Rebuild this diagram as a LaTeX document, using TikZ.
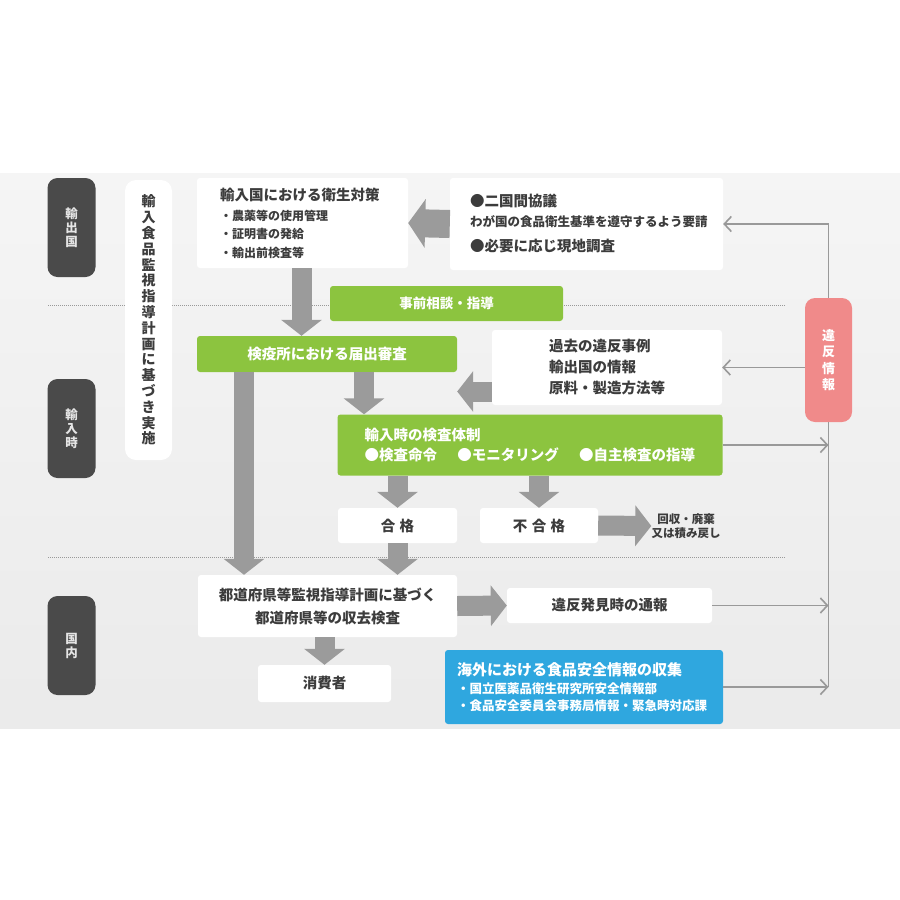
\documentclass[tikz,border=0pt]{standalone}
\usepackage{fontspec}
\setmainfont{Noto Sans CJK JP}
\usetikzlibrary{arrows.meta,calc}
\definecolor{grn}{HTML}{8CC43F}
\definecolor{blu}{HTML}{2FA7DF}
\definecolor{pnk}{HTML}{F08A8A}
\definecolor{drk}{HTML}{4A4A4A}
\definecolor{arw}{HTML}{9B9B9B}
\definecolor{txt}{HTML}{3C3C3C}
\definecolor{lin}{HTML}{999999}

\begin{document}
\begin{tikzpicture}[x=1pt,y=-1pt,
  every node/.style={font=\bfseries},
  wbox/.style={fill=white,rounded corners=3pt,text=txt,inner sep=0pt},
  gbox/.style={fill=grn,rounded corners=3pt,text=white,inner sep=0pt},
  tag/.style={fill=drk,rounded corners=10pt,text=white!90!black,inner sep=0pt,
    minimum width=48pt,minimum height=99pt,align=center,
    font=\bfseries\fontsize{12.5}{14}\selectfont},
  blk/.style={draw=arw,line width=20pt,-{Triangle[width=40pt,length=16pt]}},
  bigblk/.style={draw=arw,line width=28pt,-{Triangle[width=48pt,length=17pt]}},
  info/.style={draw=lin,line width=1.6pt,-{Straight Barb[length=7pt,width=15pt]}},
  sepline/.style={draw=lin,line width=1pt,dash pattern=on 1pt off 1pt}]
\useasboundingbox (0,0) rectangle (900,900);
\fill[white] (0,0) rectangle (900,900);
\shade[top color=black!4,bottom color=black!8] (0,173) rectangle (900,728);

% separators
\draw[sepline] (48,305) -- (785,305);
\draw[sepline] (48,557) -- (785,557);

% stage tags
\node[tag] (yushutsu) at (71.5,227.5) {輸\\出\\国};
\node[tag] (yunyu) at (71.5,428.5) {輸\\入\\時};
\node[tag] (kokunai) at (71.5,645.5) {国\\内};

\node[fill=white,rounded corners=11pt,text=txt,inner sep=0pt,minimum width=47pt,
  minimum height=280pt,align=center,font=\bfseries\fontsize{14}{15.8}\selectfont]
  (keikaku) at (148.5,320) {輸\\入\\食\\品\\監\\視\\指\\導\\計\\画\\に\\基\\づ\\き\\実\\施};

% export country
\node[wbox,minimum width=211pt,minimum height=90pt,text width=165pt,align=left,
  font=\bfseries\fontsize{12}{18.5}\selectfont] (taisaku) at (302.5,223)
  {{\fontsize{14.5}{18.5}\selectfont 輸入国における衛生対策}\\[1.5pt]
   ・農薬等の使用管理\\・証明書の発給\\・輸出前検査等};
\node[wbox,minimum width=273pt,minimum height=92pt,text width=233pt,align=left,
  font=\bfseries\fontsize{14.5}{20}\selectfont] (kyogi) at (586.5,224)
  {●二国間協議\\{\fontsize{12.5}{20}\selectfont わが国の食品衛生基準を遵守するよう要請}\\[5pt]
   ●必要に応じ現地調査};

% import
\node[gbox,minimum width=233pt,minimum height=35pt,font=\bfseries\fontsize{13.5}{16}\selectfont]
  (jizen) at (446.5,303.5) {事前相談・指導};
\node[gbox,minimum width=260pt,minimum height=36pt,font=\bfseries\fontsize{14.5}{16}\selectfont]
  (todokede) at (327,354) {検疫所における届出審査};
\node[wbox,minimum width=230pt,minimum height=75pt,align=left,
  font=\bfseries\fontsize{14.5}{21}\selectfont] (kako) at (607,367.5)
  {過去の違反事例\\輸出国の情報\\原料・製造方法等};
\node[gbox,minimum width=385pt,minimum height=61pt,text width=331pt,align=left,
  font=\bfseries\fontsize{14.5}{20}\selectfont] (kensa) at (530,445)
  {輸入時の検査体制\\●検査命令\hspace{1.4em}●モニタリング\hspace{1.4em}●自主検査の指導};
\node[wbox,minimum width=119pt,minimum height=35pt,font=\bfseries\fontsize{14.5}{16}\selectfont]
  (gokaku) at (397.5,525.5) {合\hspace{0.3em}格};
\node[wbox,minimum width=118pt,minimum height=35pt,font=\bfseries\fontsize{14.5}{16}\selectfont]
  (fugokaku) at (539,525.5) {不\hspace{0.3em}合\hspace{0.3em}格};
\node[text=txt,inner sep=0pt,align=center,font=\bfseries\fontsize{11.5}{13.5}\selectfont]
  (kaishu) at (686,526) {回収・廃棄\\又は積み戻し};

% domestic
\node[wbox,minimum width=259pt,minimum height=62pt,align=center,
  font=\bfseries\fontsize{14.5}{23}\selectfont] (todofuken) at (327.5,606)
  {都道府県等監視指導計画に基づく\\都道府県等の収去検査};
\node[wbox,minimum width=205pt,minimum height=35pt,font=\bfseries\fontsize{14.5}{16}\selectfont]
  (tsuho) at (609.5,605.5) {違反発見時の通報};
\node[wbox,minimum width=133pt,minimum height=37pt,font=\bfseries\fontsize{14.5}{16}\selectfont]
  (shohisha) at (324.5,683.5) {消費者};
\node[fill=blu,rounded corners=3pt,text=white,inner sep=0pt,minimum width=278pt,
  minimum height=74pt,text width=254pt,align=left,
  font=\bfseries\fontsize{12.5}{17}\selectfont] (kaigai) at (584,687)
  {{\fontsize{15}{17}\selectfont 海外における食品安全情報の収集}\\[1pt]
   ・国立医薬品衛生研究所安全情報部\\・食品安全委員会事務局情報・緊急時対応課};

\node[fill=pnk,rounded corners=10pt,text=white,inner sep=0pt,minimum width=47pt,
  minimum height=124pt,align=center,font=\bfseries\fontsize{13}{16.5}\selectfont]
  (ihan) at (828.5,360) {違\\反\\情\\報};

% block arrows
\draw[bigblk] (kyogi.west) -- (taisaku.east);
\draw[blk] ([xshift=-1pt]taisaku.south) -- ([xshift=-1pt]taisaku.south |- todokede.north);
\draw[blk] ([yshift=-24pt]kako.west) -- ([yshift=-24pt]kako.west -| todokede.east);
\draw[blk] ([xshift=37pt]todokede.south) -- ([xshift=37pt]todokede.south |- kensa.north);
\draw[blk] ([xshift=-83pt]todokede.south) -- ([xshift=-83pt]todokede.south |- todofuken.north);
\draw[blk] (kensa.south -| gokaku.north) -- (gokaku.north);
\draw[blk] (kensa.south -| fugokaku.north) -- (fugokaku.north);
\draw[blk] (fugokaku.east) -- (kaishu.west);
\draw[blk] (gokaku.south) -- (gokaku.south |- todofuken.north);
\draw[blk] (todofuken.east) -- (tsuho.west);
\draw[blk] (todofuken.south -| shohisha.north) -- (shohisha.north);

% violation info lines
\draw[info] (ihan.north) |- (kyogi.east);
\draw[info] (ihan.west |- kako.east) -- (kako.east);
\draw[draw=lin,line width=1.6pt] (ihan.south) -- (ihan.south |- kaigai.east);
\draw[info] (kensa.east) -- (kensa.east -| ihan.south);
\draw[info] (tsuho.east) -- (tsuho.east -| ihan.south);
\draw[info] (kaigai.east) -- (kaigai.east -| ihan.south);

\end{tikzpicture}
\end{document}
